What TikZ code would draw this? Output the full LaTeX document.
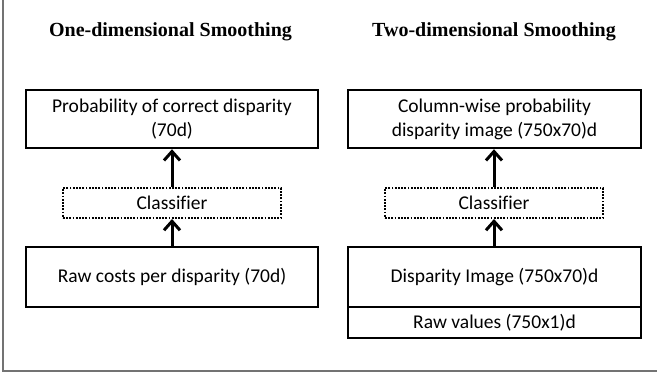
\documentclass[tikz,border=0pt]{standalone}
\usepackage{fontspec}
\setmainfont[Ligatures=NoCommon]{Carlito}
\newfontfamily\titlefont{Liberation Serif}
\usetikzlibrary{arrows.meta}
\tikzset{
  box/.style={draw=black, line width=2.4pt, rectangle, inner sep=0pt, align=center,
    font=\fontsize{19.5}{24}\selectfont},
  dotbox/.style={box, line width=2pt, dash pattern=on 1.8pt off 1.4pt},
  ttl/.style={font=\titlefont\bfseries\fontsize{20}{24}\selectfont, inner sep=0pt},
  arr/.style={line width=3pt, -{Straight Barb[length=9pt, width=16pt, line width=3pt]}},
  frame/.style={draw=black!55, line width=1.8pt}
}
\begin{document}
\begin{tikzpicture}[x=1pt, y=-1pt]
\useasboundingbox (0,0) rectangle (657,377);
% frame
\coordinate (ft) at (3,-2);
\coordinate (fc) at (3,371);
\coordinate (fr) at (659,371);
\draw[frame] (ft) -- (fc) -- (fr);
% titles
\node[ttl] (t1) at (170.5,32) {One-dimensional Smoothing};
\node[ttl] (t2) at (494,32) {Two-dimensional Smoothing};
% left column
\node[box, minimum width=292pt, minimum height=58pt] (p1) at (172,119)
  {Probability of correct disparity\\(70d)};
\node[dotbox, minimum width=218pt, minimum height=30pt] (c1) at (172,203) {Classifier};
\node[box, minimum width=292pt, minimum height=60pt] (r1) at (172,277)
  {Raw costs per disparity (70d)};
% right column
\node[box, minimum width=293pt, minimum height=58pt] (p2) at (494.5,119)
  {Column-wise probability\\disparity image (750x70)d};
\node[dotbox, minimum width=218pt, minimum height=30pt] (c2) at (494,203) {Classifier};
\node[box, minimum width=293pt, minimum height=60pt] (d2) at (494.5,277)
  {Disparity Image (750x70)d};
\node[box, minimum width=293pt, minimum height=31pt] (v2) at (494.5,322.5)
  {Raw values (750x1)d};
% arrows
\draw[arr] (c1.north) -- (p1.south);
\draw[arr] (r1.north) -- (c1.south);
\draw[arr] (c2.north) -- (p2.south -| c2.north);
\draw[arr] (d2.north -| c2.south) -- (c2.south);
\end{tikzpicture}
\end{document}
